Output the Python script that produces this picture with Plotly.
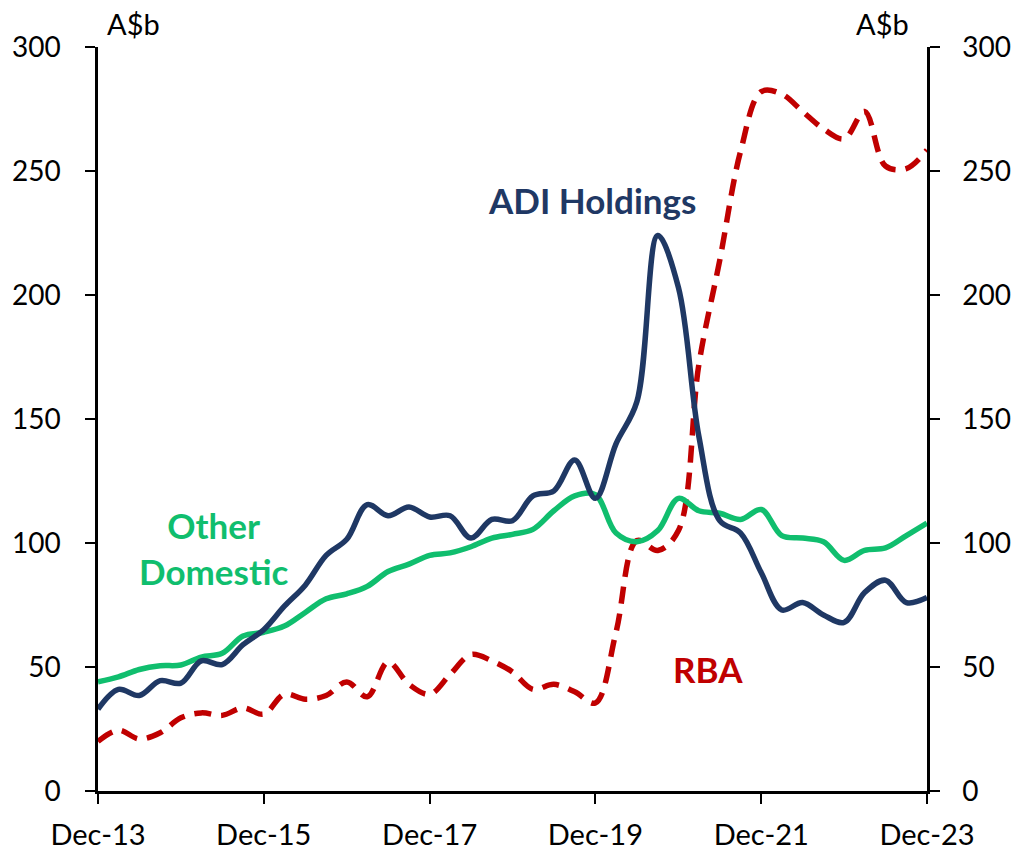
import pandas as pd
import plotly.graph_objects as go

# Quarterly observations, Dec-13 to Dec-23
dates = pd.date_range("2013-12-01", periods=41, freq="3MS")

adi_holdings = [33, 41, 38.5, 44.5, 43.5, 52.5, 51, 59, 65, 74.5,
                83, 95, 101.5, 115.5, 111, 114.5, 110.5, 111, 102, 109.5,
                109, 119, 121, 133.5, 118, 140, 157, 224, 203, 143,
                109, 104, 88, 73, 76, 71, 68, 80, 85, 76, 78]

other_domestic = [44, 46, 49, 50.5, 50.8, 54, 55.5, 62.5, 64, 66.5,
                  72, 77.5, 79.5, 82.5, 88.5, 91.5, 95, 96, 98.5, 102,
                  103.5, 105.5, 113, 119, 119.5, 104, 100.5, 105, 118, 113,
                  112, 109.5, 113.5, 103, 102, 100.5, 93, 97, 98, 103, 108]

rba = [20, 24.5, 21, 23.5, 29.5, 31.5, 30.5, 33.5, 31, 39,
       37, 38.5, 44, 38, 52, 43, 39, 47, 55, 52.5,
       48, 41, 43, 40, 35.5, 64, 101, 97, 105, 172,
       214, 258, 282, 281, 274, 267, 263, 274, 252, 251, 258.5]

tick_dates = ["2013-12-01", "2015-12-01", "2017-12-01", "2019-12-01", "2021-12-01", "2023-12-01"]
tick_labels = ["Dec-13", "Dec-15", "Dec-17", "Dec-19", "Dec-21", "Dec-23"]
y_ticks = [0, 50, 100, 150, 200, 250, 300]

NAVY = "#1F3864"
GREEN = "#10BE6E"
RED = "#C00000"
FONT = "Lato"

fig = go.Figure()
fig.add_trace(go.Scatter(x=dates, y=rba, mode="lines", name="RBA",
                         line=dict(color=RED, width=5.5, dash="17px,10px", shape="spline", smoothing=1.0)))
fig.add_trace(go.Scatter(x=dates, y=other_domestic, mode="lines", name="Other Domestic",
                         line=dict(color=GREEN, width=5.5, shape="spline", smoothing=1.0)))
fig.add_trace(go.Scatter(x=dates, y=adi_holdings, mode="lines", name="ADI Holdings",
                         line=dict(color=NAVY, width=5.5, shape="spline", smoothing=1.0)))
# invisible trace for right axis
fig.add_trace(go.Scatter(x=dates, y=adi_holdings, yaxis="y2", mode="lines",
                         line=dict(width=0), opacity=0, showlegend=False, hoverinfo="skip"))

axis_font = dict(family=FONT, size=28, color="black")
common = dict(ticks="outside", ticklen=10, tickwidth=2, tickcolor="black",
              showline=True, linecolor="black", linewidth=2.5,
              showgrid=False, zeroline=False, tickfont=axis_font, automargin=False)
fig.update_layout(
    width=1015, height=851,
    margin=dict(l=98, r=88, t=47, b=60, autoexpand=False),
    paper_bgcolor="white", plot_bgcolor="white",
    showlegend=False,
    xaxis=dict(type="date", range=["2013-12-01", "2023-12-01"],
               tickvals=tick_dates, ticktext=tick_labels,
               ticklabelstandoff=6, tickfont=dict(family=FONT, size=29, color="black"),
               **{k: v for k, v in common.items() if k != "tickfont"}),
    yaxis=dict(range=[0, 300], tickvals=y_ticks, ticklabelstandoff=19, **common),
    yaxis2=dict(range=[0, 300], tickvals=y_ticks, overlaying="y", side="right",
                ticklabelstandoff=17, **common),
)

annots = [
    dict(text="ADI Holdings", x=0.596, y=0.794, color=NAVY, bold=True),
    dict(text="Other<br>Domestic", x=0.139, y=0.327, color=GREEN, bold=True),
    dict(text="RBA", x=0.736, y=0.164, color=RED, bold=True),
    dict(text="A$b", x=0.043, y=1.032, color="black", bold=False),
    dict(text="A$b", x=0.946, y=1.032, color="black", bold=False),
]
for a in annots:
    fig.add_annotation(
        text=(f"<b>{a['text']}</b>" if a["bold"] else a["text"]),
        x=a["x"], y=a["y"], xref="paper", yref="paper",
        showarrow=False, xanchor="center", yanchor="middle",
        font=dict(family=FONT, size=35 if a["bold"] else 29, color=a["color"]),
    )

# remove the page's default body margin so the figure fills the window exactly
fig.write_html("out.html", config={"displayModeBar": False},
               post_script="document.body.style.margin='0';document.body.style.overflow='hidden';")
